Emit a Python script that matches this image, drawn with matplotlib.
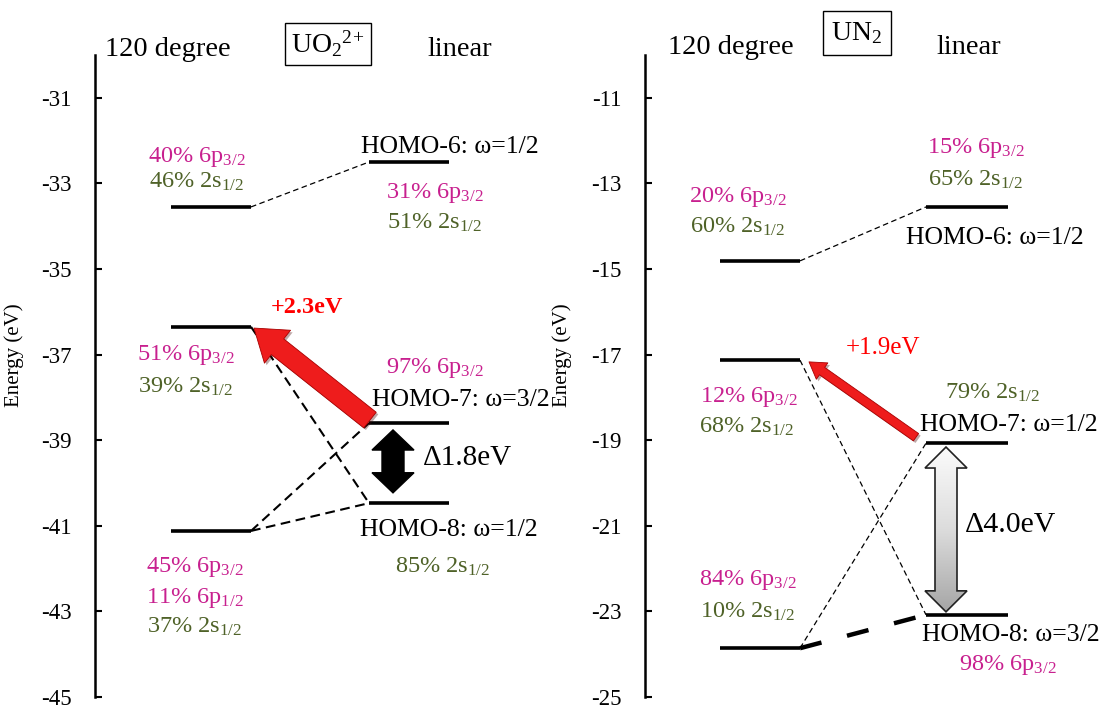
import matplotlib
matplotlib.use("Agg")
import matplotlib.pyplot as plt
import numpy as np
from matplotlib.patches import FancyArrowPatch, Polygon
from matplotlib.colors import LinearSegmentedColormap
from matplotlib import patheffects as pe

plt.rcParams['font.family'] = ['Liberation Serif', 'DejaVu Serif']
plt.rcParams['mathtext.fontset'] = 'custom'
plt.rcParams['mathtext.rm'] = 'Liberation Serif'
plt.rcParams['mathtext.it'] = 'Liberation Serif:italic'
plt.rcParams['lines.scale_dashes'] = False
plt.rcParams['axes.unicode_minus'] = False

W, H = 1105, 719
MAG = '#c8208f'
OLV = '#4f6228'

# energy levels (eV): 120 degree column, linear column
uo2_bent = [-33.55, -36.35, -41.12]
uo2_lin = [-32.50, -38.60, -40.47]
uo2_names = ["HOMO-6: ω=1/2", "HOMO-7: ω=3/2", "HOMO-8: ω=1/2"]
uo2_shift = 2.3
uo2_gap = 1.8

un2_bent = [-14.81, -17.13, -23.86]
un2_lin = [-13.55, -19.07, -23.08]
un2_names = ["HOMO-6: ω=1/2", "HOMO-7: ω=1/2", "HOMO-8: ω=3/2"]
un2_shift = 1.9
un2_gap = 4.0

# correlation lines (bent index, linear index, style)
uo2_links = [(0, 0, 'thin'), (1, 2, 'mid'), (2, 1, 'mid'), (2, 2, 'mid')]
un2_links = [(0, 0, 'thin'), (1, 2, 'thin'), (2, 1, 'thin'), (2, 2, 'thick')]

link_style = {
    'thin': dict(lw=0.9, dashes=(4, 2.5)),
    'mid': dict(lw=1.5, dashes=(7, 4)),
    'thick': dict(lw=3.2, dashes=(16, 19)),
}


def fax(x0, x1, y0, y1):
    return [x0 / W, 1 - y1 / H, (x1 - x0) / W, (y1 - y0) / H]


def pct(p, orb, sub):
    return f"{p}% {orb}$_{{{sub}}}$"


fig = plt.figure(figsize=(W / 100, H / 100), dpi=100)

axL = fig.add_axes(fax(95, 560, 55, 697))
axL.set_xlim(95, 560)
axL.set_ylim(-45, -30)
axL.set_yticks(np.arange(-45, -30, 2))

axR = fig.add_axes(fax(645, 1105, 55, 697))
axR.set_xlim(645, 1105)
axR.set_ylim(-25, -10)
axR.set_yticks(np.arange(-25, -10, 2))

for ax, lx in [(axL, -0.153), (axR, -0.159)]:
    for s in ['top', 'right', 'bottom']:
        ax.spines[s].set_visible(False)
    ax.spines['left'].set_linewidth(1.8)
    ax.set_xticks([])
    ax.tick_params(axis='y', direction='in', length=5, width=1.5, pad=17, labelsize=16.5)
    ax.set_ylabel('Energy (eV)', fontsize=15)
    ax.yaxis.set_label_coords(lx, 0.533)
    ax.patch.set_visible(False)


def draw_levels(ax, bent, lin, bx, lx, links):
    for e in bent:
        ax.plot(bx, [e, e], color='black', lw=2.6, solid_capstyle='butt')
    for e in lin:
        ax.plot(lx, [e, e], color='black', lw=2.6, solid_capstyle='butt')
    for i, j, st in links:
        ax.plot([bx[1], lx[0]], [bent[i], lin[j]], color='black', **link_style[st])


def dbl_arrow(ax, cx, ytop, ybot, bw, hw, hl, grad=None):
    pts = [(cx, ytop), (cx + hw, ytop - hl), (cx + bw, ytop - hl), (cx + bw, ybot + hl),
           (cx + hw, ybot + hl), (cx, ybot), (cx - hw, ybot + hl), (cx - bw, ybot + hl),
           (cx - bw, ytop - hl), (cx - hw, ytop - hl)]
    if grad is None:
        ax.add_patch(Polygon(pts, closed=True, facecolor='black', edgecolor='black', lw=1))
    else:
        poly = Polygon(pts, closed=True, facecolor='none', edgecolor='#222222', lw=1.2, zorder=4)
        ax.add_patch(poly)
        g = np.linspace(0, 1, 200).reshape(-1, 1)
        im = ax.imshow(g, cmap=grad, extent=[cx - hw, cx + hw, ybot, ytop], aspect='auto',
                       origin='upper', zorder=3)
        im.set_clip_path(poly)


def red_arrow(ax, tail, tip, tw, hw, hl):
    k = 1 / 1.389
    a = FancyArrowPatch(tail, tip, shrinkA=0, shrinkB=0, mutation_scale=1,
                        arrowstyle=f"simple,head_width={hw * k},head_length={hl * k},tail_width={tw * k}",
                        facecolor='#ee1c1c', edgecolor='#a80000', lw=0.6, zorder=5,
                        path_effects=[pe.withSimplePatchShadow(offset=(1.5, -1.5), alpha=0.35)])
    ax.add_patch(a)


grey_grad = LinearSegmentedColormap.from_list('gg', ['#fbfbfb', '#dcdcdc', '#a6a6a6'])

# ---------------- UO2 2+ ----------------
draw_levels(axL, uo2_bent, uo2_lin, [171, 251], [369, 449], uo2_links)
red_arrow(axL, (370, uo2_lin[1] + 0.07), (254, uo2_bent[1] - 0.03), 20, 42, 30)
dbl_arrow(axL, 393, uo2_lin[1] - 0.16, uo2_lin[2] + 0.24, 11, 21, 0.47)

axL.text(307, -35.89, f"+{uo2_shift}eV", color='#ff0000', fontsize=17.5, fontweight='bold',
         ha='center', va='center')
axL.text(423, -39.42, f"Δ{uo2_gap}eV", color='black', fontsize=21, ha='left', va='center')

tL = [
    (197, -32.38, pct(40, '6p', '3/2'), MAG),
    (197, -32.97, pct(46, '2s', '1/2'), OLV),
    (435, -33.22, pct(31, '6p', '3/2'), MAG),
    (435, -33.93, pct(51, '2s', '1/2'), OLV),
    (186, -37.01, pct(51, '6p', '3/2'), MAG),
    (186, -37.76, pct(39, '2s', '1/2'), OLV),
    (435, -37.31, pct(97, '6p', '3/2'), MAG),
    (443, -41.96, pct(85, '2s', '1/2'), OLV),
    (195, -41.96, pct(45, '6p', '3/2'), MAG),
    (195, -42.69, pct(11, '6p', '1/2'), MAG),
    (195, -43.36, pct(37, '2s', '1/2'), OLV),
]
for x, y, s, c in tL:
    axL.text(x, y, s, color=c, fontsize=17.5, ha='center', va='center')
for x, y, s in [(450, -32.15, uo2_names[0]), (461, -38.06, uo2_names[1]), (449, -41.10, uo2_names[2])]:
    axL.text(x, y, s, color='black', fontsize=18.5, ha='center', va='center', clip_on=False)

# ---------------- UN2 ----------------
draw_levels(axR, un2_bent, un2_lin, [720, 800], [926, 1008], un2_links)
red_arrow(axR, (916, un2_lin[1] + 0.14), (809, un2_bent[1] - 0.04), 9, 20, 16)
dbl_arrow(axR, 946, un2_lin[1] - 0.09, un2_lin[2] + 0.07, 11, 21, 0.49, grad=grey_grad)

axR.text(883, -16.85, f"+{un2_shift}eV", color='#ff0000', fontsize=18, ha='center', va='center')
axR.text(965, -20.98, f"Δ{un2_gap}eV", color='black', fontsize=21.5, ha='left', va='center')

tR = [
    (976, -12.17, pct(15, '6p', '3/2'), MAG),
    (976, -12.92, pct(65, '2s', '1/2'), OLV),
    (738, -13.32, pct(20, '6p', '3/2'), MAG),
    (738, -14.02, pct(60, '2s', '1/2'), OLV),
    (749, -17.99, pct(12, '6p', '3/2'), MAG),
    (747, -18.69, pct(68, '2s', '1/2'), OLV),
    (993, -17.90, pct(79, '2s', '1/2'), OLV),
    (748, -22.27, pct(84, '6p', '3/2'), MAG),
    (748, -23.01, pct(10, '2s', '1/2'), OLV),
    (1008, -24.25, pct(98, '6p', '3/2'), MAG),
]
for x, y, s, c in tR:
    axR.text(x, y, s, color=c, fontsize=17.5, ha='center', va='center')
for x, y, s in [(995, -14.28, un2_names[0]), (1009, -18.64, un2_names[1]), (1011, -23.55, un2_names[2])]:
    axR.text(x, y, s, color='black', fontsize=18.5, ha='center', va='center', clip_on=False)

# ---------------- headers ----------------
fig.text(168 / W, 1 - 50 / H, "120 degree", fontsize=20.5, ha='center', va='center')
fig.text(460 / W, 1 - 50 / H, "linear", fontsize=20.5, ha='center', va='center')
fig.text(328 / W, 1 - 44 / H, r"UO$_2$$^{2\!+}$", fontsize=20, ha='center', va='center',
         bbox=dict(boxstyle='square,pad=0.22', facecolor='white', edgecolor='black', lw=1))
fig.text(731 / W, 1 - 48 / H, "120 degree", fontsize=20.5, ha='center', va='center')
fig.text(969 / W, 1 - 48 / H, "linear", fontsize=20.5, ha='center', va='center')
fig.text(857 / W, 1 - 33 / H, r"UN$_2$", fontsize=20, ha='center', va='center',
         bbox=dict(boxstyle='square,pad=0.32', facecolor='white', edgecolor='black', lw=1))

fig.savefig("out.png", dpi=100)
